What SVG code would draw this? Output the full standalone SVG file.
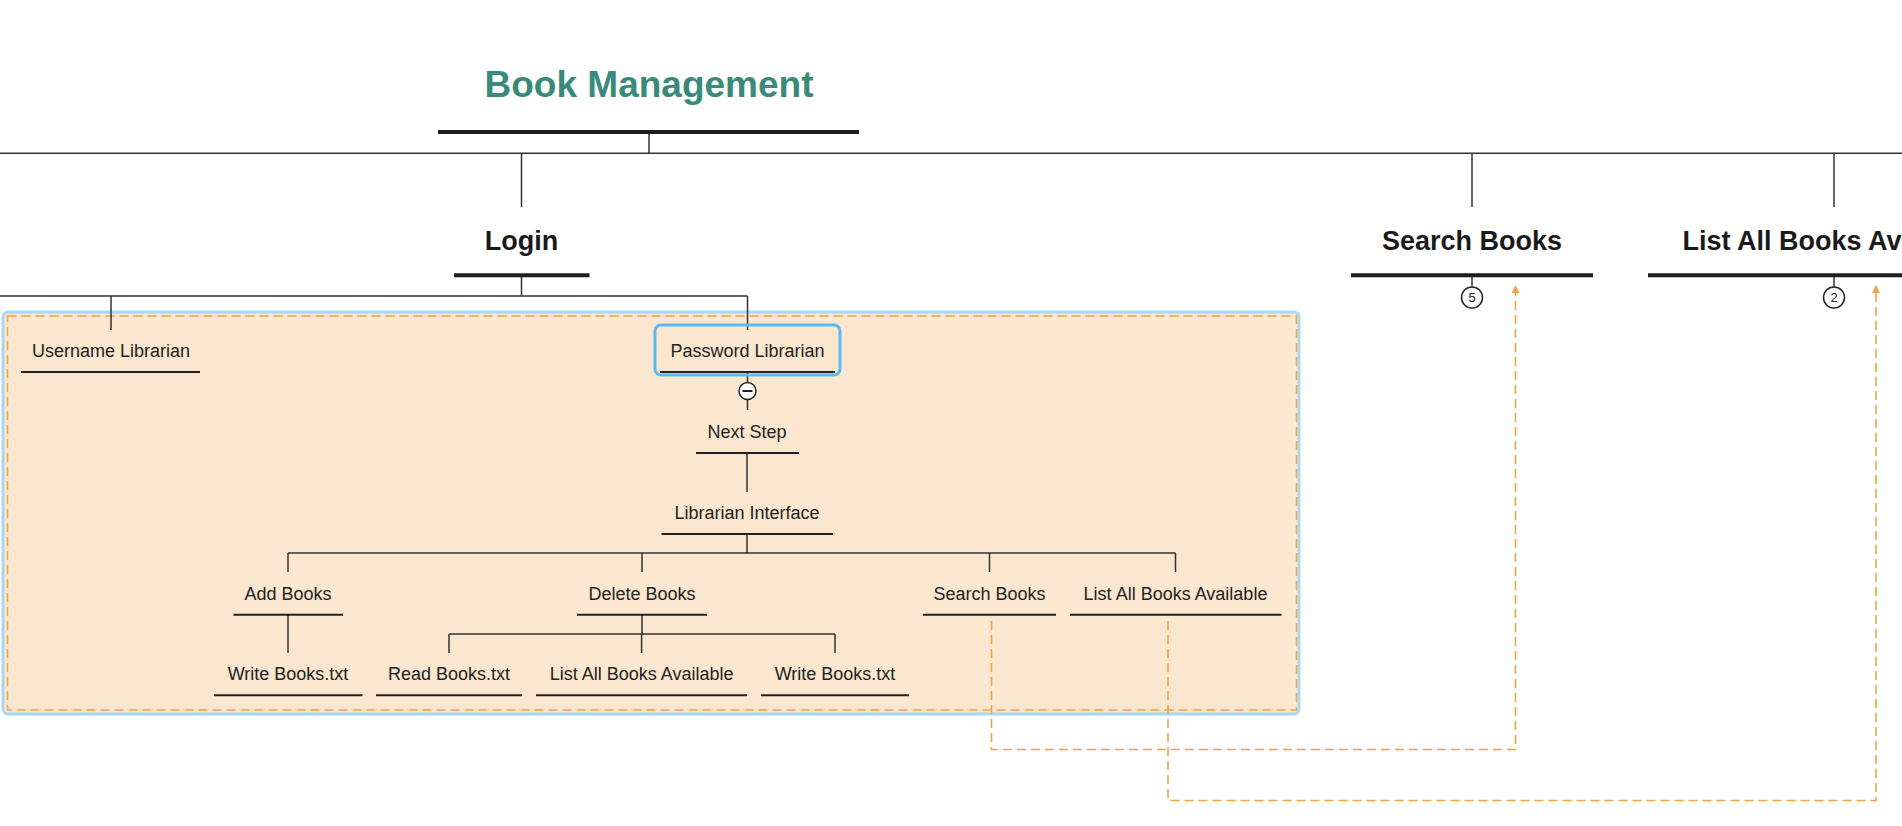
<svg xmlns="http://www.w3.org/2000/svg" width="1902" height="826" viewBox="0 0 1902 826">
<style>
.t{font-family:"Liberation Sans",Arial,sans-serif;font-size:18px;fill:#222;text-anchor:middle}
.h{font-family:"Liberation Sans",Arial,sans-serif;font-size:27px;font-weight:bold;fill:#1a1a1a;text-anchor:middle}
.title{font-family:"Liberation Sans",Arial,sans-serif;font-size:37px;font-weight:bold;fill:#3a8a7b;text-anchor:middle}
.ul{stroke:#222;stroke-width:2;fill:none}
.ulb{stroke:#1e1e1e;stroke-width:4;fill:none}
.c{stroke:#333;stroke-width:1.5;fill:none}
.d{stroke:#f0a343;stroke-width:1.6;fill:none;stroke-dasharray:9 5}
.badge{fill:#fff;stroke:#222;stroke-width:1.5}
.bt{font-family:"Liberation Sans",Arial,sans-serif;font-size:13px;fill:#222;text-anchor:middle}
</style>
<defs>
<marker id="arr" markerWidth="8" markerHeight="8" refX="7" refY="4" orient="auto" markerUnits="userSpaceOnUse">
<path d="M0,0 L8,4 L0,8 Z" fill="#f0a343"/>
</marker>
</defs>
<rect width="1902" height="826" fill="#fff"/>

<g id="group-box">
<rect x="3" y="312" width="1296" height="402" rx="5" fill="#fbe7cf" stroke="#a6d9f6" stroke-width="3"/>
<rect x="7.5" y="316" width="1289" height="394" fill="none" stroke="#f0a343" stroke-width="1.5" stroke-dasharray="9 5"/>
</g>

<g id="connectors">
<path class="c" d="M0,153.3 H1902"/>
<path class="c" d="M649,132 V153.3"/>
<path class="c" d="M521.5,153.3 V207"/>
<path class="c" d="M1472,153.3 V207"/>
<path class="c" d="M1834,153.3 V207"/>
<path class="c" d="M521.5,276 V296 M0,296 H747.5 M111,296 V330 M747.5,296 V330"/>
<path class="c" d="M747.5,372 V382 M747.5,400 V410"/>
<path class="c" d="M747,453 V492"/>
<path class="c" d="M747,534 V553 M288,553 H1175.5 M288,553 V572 M642,553 V572 M989.5,553 V572 M1175.5,553 V572"/>
<path class="c" d="M288,615 V653"/>
<path class="c" d="M642,615 V634 M449,634 H835 M449,634 V653 M641.6,634 V653 M835,634 V653"/>
<path class="c" d="M1472,277 V286.5"/>
<path class="c" d="M1834,277 V286.5"/>
<path class="d" d="M991.5,621 V749.5 H1515.5 V286" marker-end="url(#arr)"/>
<path class="d" d="M1168,621 V800.5 H1876 V286" marker-end="url(#arr)"/>
</g>

<g id="node-book-management">
<text class="title" x="649" y="96.5">Book Management</text>
<path class="ulb" d="M438,132 H859"/>
</g>

<g id="node-login">
<text class="h" x="521.5" y="250">Login</text>
<path class="ulb" d="M454,275.3 H589.5"/>
</g>

<g id="node-search-books-top">
<text class="h" x="1472" y="250">Search Books</text>
<path class="ulb" d="M1351,275.3 H1593"/>
<circle class="badge" cx="1472" cy="297.5" r="10.5"/>
<text class="bt" x="1472" y="302">5</text>
</g>

<g id="node-list-all-top">
<text class="h" x="1834" y="250">List All Books Available</text>
<path class="ulb" d="M1648,275.3 H2020"/>
<circle class="badge" cx="1834" cy="297.5" r="10.5"/>
<text class="bt" x="1834" y="302">2</text>
</g>

<g id="node-username">
<text class="t" x="111" y="356.5">Username Librarian</text>
<path class="ul" d="M21,372 H200"/>
</g>

<g id="node-password">
<rect x="655" y="325" width="185" height="50" rx="6" fill="none" stroke="#5cb8f0" stroke-width="3"/>
<text class="t" x="747.5" y="356.5">Password Librarian</text>
<path class="ul" d="M660,372 H835"/>
<circle cx="747.5" cy="391" r="8.5" fill="#fff" stroke="#222" stroke-width="1.5"/>
<path d="M742.5,391 H752.5" stroke="#222" stroke-width="2"/>
</g>

<g id="node-next-step">
<text class="t" x="747" y="438">Next Step</text>
<path class="ul" d="M696,453 H799"/>
</g>

<g id="node-librarian-interface">
<text class="t" x="747" y="518.5">Librarian Interface</text>
<path class="ul" d="M661.5,534 H833"/>
</g>

<g id="node-add-books">
<text class="t" x="288" y="599.5">Add Books</text>
<path class="ul" d="M233.5,614.7 H343"/>
</g>

<g id="node-delete-books">
<text class="t" x="642" y="599.5">Delete Books</text>
<path class="ul" d="M577,614.7 H707"/>
</g>

<g id="node-search-books">
<text class="t" x="989.5" y="599.5">Search Books</text>
<path class="ul" d="M923,614.7 H1056"/>
</g>

<g id="node-list-all-books">
<text class="t" x="1175.5" y="599.5">List All Books Available</text>
<path class="ul" d="M1070,614.7 H1281.5"/>
</g>

<g id="node-write-books-1">
<text class="t" x="288" y="680">Write Books.txt</text>
<path class="ul" d="M214,695.3 H362.5"/>
</g>

<g id="node-read-books">
<text class="t" x="449" y="680">Read Books.txt</text>
<path class="ul" d="M376,695.3 H522"/>
</g>

<g id="node-list-all-books-2">
<text class="t" x="641.6" y="680">List All Books Available</text>
<path class="ul" d="M536,695.3 H747"/>
</g>

<g id="node-write-books-2">
<text class="t" x="835" y="680">Write Books.txt</text>
<path class="ul" d="M761,695.3 H909"/>
</g>
</svg>
